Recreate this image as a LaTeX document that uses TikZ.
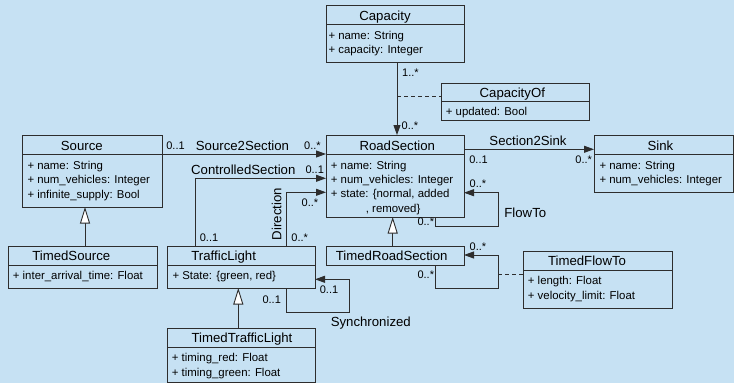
\documentclass[tikz,border=0pt]{standalone}
\usepackage{fontspec}
\setmainfont{Liberation Sans}
\usetikzlibrary{arrows.meta}

\definecolor{bgblue}{RGB}{198,225,243}
\definecolor{ink}{RGB}{45,45,45}

\tikzset{
  classbox/.style={rectangle, draw=ink, line width=1pt, fill=bgblue,
    inner sep=0pt, outer sep=0pt, anchor=north west},
  divider/.style={draw=ink, line width=1pt},
  classname/.style={font=\fontsize{13.2}{15}\selectfont, inner sep=0pt,
    text height=9.4pt, text depth=0pt},
  attr/.style={font=\fontsize{11.4}{13}\selectfont, inner sep=0pt, anchor=west,
    text height=8.2pt, text depth=0pt},
  mult/.style={font=\fontsize{11}{13}\selectfont, inner sep=0pt,
    text height=7.9pt, text depth=0pt},
  assocname/.style={font=\fontsize{13.2}{15}\selectfont, inner sep=0pt,
    text height=9.4pt, text depth=0pt},
  assoc/.style={draw=ink, line width=0.9pt, -{Triangle[length=10pt,width=7pt]}},
  assocclass/.style={draw=ink, line width=0.9pt, dash pattern=on 4pt off 3pt},
  generalize/.style={draw=ink, line width=0.9pt,
    -{Triangle[length=16.5pt,width=10pt,fill=white]}},
}

% class box: name, left, top, right, bottom, divider
\newcommand\umlclass[6]{%
  \node[classbox, minimum width=#4-#2, minimum height=#5-#3] (#1) at (#2,#3) {};
  \draw[divider] (#1.west |- 0,#6) -- (#1.east |- 0,#6);}

\begin{document}
\begin{tikzpicture}[x=1pt, y=-1pt]
\fill[bgblue] (0,0) rectangle (734,383);
\useasboundingbox (0,0) rectangle (734,383);

% ---- classes ----
\umlclass{capacity}{326}{5}{464}{62}{24}
\node[classname] (capacity-t) at (385,15.3) {Capacity};
\node[attr] (capacity-a1) at (328.3,35) {+ name: String};
\node[attr] (capacity-a2) at (328.3,49.3) {+ capacity: Integer};

\umlclass{capacityof}{441}{83}{589}{120}{101}
\node[classname] (capacityof-t) at (512.3,92.3) {CapacityOf};
\node[attr] (capacityof-a1) at (445.7,111.7) {+ updated: Bool};

\umlclass{roadsection}{326}{135}{464}{217}{154}
\node[classname] (roadsection-t) at (397.3,145.7) {RoadSection};
\node[attr] (roadsection-a1) at (330.7,165) {+ name: String};
\node[attr] (roadsection-a2) at (330.7,179.3) {+ num\_vehicles: Integer};
\node[attr] (roadsection-a3) at (330.7,193.7) {+ state: \{normal, added};
\node[attr] (roadsection-a4) at (365.7,208.3) {, removed\}};

\umlclass{sink}{594}{135}{733}{192}{154}
\node[classname] (sink-t) at (660.5,145.7) {Sink};
\node[attr] (sink-a1) at (599.3,165) {+ name: String};
\node[attr] (sink-a2) at (599.3,179.3) {+ num\_vehicles: Integer};

\umlclass{source}{22}{135}{162}{207}{154}
\node[classname] (source-t) at (81.8,145.5) {Source};
\node[attr] (source-a1) at (27.3,165) {+ name: String};
\node[attr] (source-a2) at (27.3,179.3) {+ num\_vehicles: Integer};
\node[attr] (source-a3) at (27.3,194) {+ infinite\_supply: Bool};

\umlclass{timedsource}{8}{246}{157}{288}{265}
\node[classname] (timedsource-t) at (71.3,255.7) {TimedSource};
\node[attr] (timedsource-a1) at (12.7,275.7) {+ inter\_arrival\_time: Float};

\umlclass{trafficlight}{167}{246}{315}{288}{265}
\node[classname] (trafficlight-t) at (223.7,255.7) {TrafficLight};
\node[attr] (trafficlight-a1) at (172.3,275.7) {+ State: \{green, red\}};

\node[classbox, minimum width=138, minimum height=19.3] (timedroadsection) at (326,246) {};
\node[classname] (timedroadsection-t) at (391.7,255.5) {TimedRoadSection};

\umlclass{timedflowto}{523}{251}{672}{308}{270}
\node[classname] (timedflowto-t) at (587,260.7) {TimedFlowTo};
\node[attr] (timedflowto-a1) at (527.7,280.7) {+ length: Float};
\node[attr] (timedflowto-a2) at (527.7,295) {+ velocity\_limit: Float};

\umlclass{timedtrafficlight}{167}{328}{315}{382}{347}
\node[classname] (timedtrafficlight-t) at (242,337.3) {TimedTrafficLight};
\node[attr] (timedtrafficlight-a1) at (171.7,357.3) {+ timing\_red: Float};
\node[attr] (timedtrafficlight-a2) at (171.7,372.3) {+ timing\_green: Float};

% ---- associations ----
\draw[assoc] ([xshift=2pt]capacity.south) -- ([xshift=2pt]roadsection.north);
\coordinate (capjoin) at (397.3,96.7);
\draw[assocclass] (capjoin) -- (capacityof.west |- capjoin);

\draw[assoc] (source.east |- 0,154) -- (roadsection.west |- 0,154);
\draw[assoc] (trafficlight.north -| 195.7,0) |- (roadsection.west |- 0,178.3);
\draw[assoc] (trafficlight.north -| 286,0) |- (roadsection.west |- 0,192.3);
\draw[assoc] (roadsection.east |- 0,149.3) -- (sink.west |- 0,149.3);
\draw[assoc] (roadsection.south -| 435.7,0) |- (498.3,226) |- (roadsection.east |- 0,192.7);
\draw[assoc] (timedroadsection.south -| 435.7,0) |- (498.3,288.3) |- (timedroadsection.east |- 0,255);
\coordinate (flowjoin) at (498.3,274.3);
\draw[assocclass] (flowjoin) -- (timedflowto.west |- flowjoin);
\draw[assoc] (trafficlight.south -| 286.7,0) |- (349.3,312.3) |- (trafficlight.east |- 0,279.3);

% ---- generalizations ----
\draw[generalize] (timedsource.north -| 85,0) -- (source.south -| 85,0);
\draw[generalize] (timedroadsection.north -| 392.7,0) -- (roadsection.south -| 392.7,0);
\draw[generalize] (timedtrafficlight.north -| 238.3,0) -- (trafficlight.south -| 238.3,0);

% ---- association names and multiplicities ----
\node[mult] (m-cap-a) at (410.5,73) {1..*};
\node[mult] (m-cap-b) at (410,126) {0..*};

\node[mult] (m-src-a) at (175.5,145.7) {0..1};
\node[assocname] (n-src) at (242.5,145.7) {Source2Section};
\node[mult] (m-src-b) at (312.5,145.7) {0..*};

\node[assocname] (n-ctl) at (243.3,169.3) {ControlledSection};
\node[mult] (m-ctl-a) at (314.7,170) {0..1};
\node[mult] (m-ctl-b) at (209,237.3) {0..1};

\node[assocname, rotate=90] (n-dir) at (276.7,214) {Direction};
\node[mult] (m-dir-a) at (310,202.7) {0..*};
\node[mult] (m-dir-b) at (299.7,237.3) {0..*};

\node[assocname] (n-sink) at (528,140.7) {Section2Sink};
\node[mult] (m-sink-a) at (478.5,160) {0..1};
\node[mult] (m-sink-b) at (583.7,160) {0..*};

\node[mult] (m-flow-a) at (478,183.3) {0..*};
\node[mult] (m-flow-b) at (425.8,221.7) {0..*};
\node[assocname] (n-flow) at (525.3,212.3) {FlowTo};

\node[mult] (m-tflow-a) at (478,246.7) {0..*};
\node[mult] (m-tflow-b) at (425.8,275) {0..*};

\node[mult] (m-sync-a) at (271.7,300) {0..1};
\node[mult] (m-sync-b) at (329,290) {0..1};
\node[assocname] (n-sync) at (370.8,321.7) {Synchronized};
\end{tikzpicture}
\end{document}
